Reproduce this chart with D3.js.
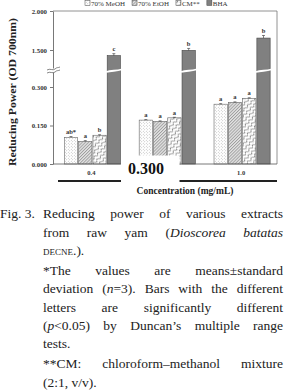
<!DOCTYPE html>
<html><head><meta charset="utf-8">
<script src="https://cdn.jsdelivr.net/npm/d3@7"></script>
<style>body{margin:0;background:#fff;overflow:hidden} svg{display:block}</style>
</head><body>
<script>
// data
const concentrations = ["0.4", "0.300", "1.0"];
const series = ["70% MeOH", "70% EtOH", "CM**", "BHA"];
const meoh = [0.104, 0.171, 0.233];
const etoh = [0.088, 0.166, 0.240];
const cm   = [0.112, 0.180, 0.256];
const bha  = [1.428, 1.495, 1.653];
const meohErr = [0.003, 0.002, 0.002];
const etohErr = [0.003, 0.002, 0.002];
const cmErr   = [0.002, 0.002, 0.002];
const bhaErr  = [0.025, 0.025, 0.033];
const meohLetters = ["ab*", "a", "a"];
const etohLetters = ["a", "a", "a"];
const cmLetters   = ["b", "a", "a"];
const bhaLetters  = ["c", "b", "b"];
const lowerTicks = [0, 0.15, 0.3];
const upperTicks = [1.5, 2.0];

const W = 284, H = 392;
const plotL = 53, plotR = 277, plotT = 11, base = 164, breakY = 70;
const serif = "'Liberation Serif', 'Times New Roman', serif";

const svg = d3.select("body").append("svg").attr("width", W).attr("height", H);
const defs = svg.append("defs");

// fills
const pd = defs.append("pattern").attr("id", "pDots").attr("patternUnits", "userSpaceOnUse")
  .attr("width", 3).attr("height", 3);
pd.append("rect").attr("width", 3).attr("height", 3).attr("fill", "#fff");
pd.append("circle").attr("cx", 0.75).attr("cy", 0.75).attr("r", 0.45).attr("fill", "#999");
pd.append("circle").attr("cx", 2.25).attr("cy", 2.25).attr("r", 0.45).attr("fill", "#999");

const ph = defs.append("pattern").attr("id", "pHatch").attr("patternUnits", "userSpaceOnUse")
  .attr("width", 2.2).attr("height", 2.2).attr("patternTransform", "rotate(45)");
ph.append("rect").attr("width", 2.2).attr("height", 2.2).attr("fill", "#e4e4e4");
ph.append("line").attr("x1", 0.5).attr("x2", 0.5).attr("y1", 0).attr("y2", 2.2)
  .attr("stroke", "#888").attr("stroke-width", 0.7);

const pw = defs.append("pattern").attr("id", "pWave").attr("patternUnits", "userSpaceOnUse")
  .attr("width", 5).attr("height", 4).attr("patternTransform", "rotate(-45)");
pw.append("rect").attr("width", 5).attr("height", 4).attr("fill", "#fff");
pw.append("path").attr("d", "M0,2 Q1.25,-0.5 2.5,2 T5,2").attr("fill", "none")
  .attr("stroke", "#555").attr("stroke-width", 0.75);

const fills = ["url(#pDots)", "url(#pHatch)", "url(#pWave)", "#808080"];

const rows = series.map((s, i) => ({
  name: s,
  values: [meoh, etoh, cm, bha][i],
  errs: [meohErr, etohErr, cmErr, bhaErr][i],
  letters: [meohLetters, etohLetters, cmLetters, bhaLetters][i],
  fill: fills[i]
}));

// broken y axis: two linear pieces
const lower = d3.scaleLinear().domain([0, 0.3]).range([base, 87]);
const upper = d3.scaleLinear().domain([1.5, 2.0]).range([50, plotT]);
const y = v => v < 1 ? lower(v) : upper(v);

const x0 = d3.scaleBand().domain(concentrations).range([55, 279.5])
  .paddingInner(0.25).paddingOuter(0.125);
const x1 = d3.scaleBand().domain(series).range([0, x0.bandwidth()]).paddingInner(0.07);

// bars
const g = svg.append("g");
rows.forEach(r => {
  const gs = g.append("g");
  concentrations.forEach((c, j) => {
    const bx = x0(c) + x1(r.name), bw = x1.bandwidth(), v = r.values[j];
    gs.append("rect").attr("x", bx).attr("y", y(v)).attr("width", bw)
      .attr("height", base - y(v)).attr("fill", r.fill)
      .attr("stroke", r.name === "BHA" ? "#444" : "#666").attr("stroke-width", 0.6);
    const ey = y(v + r.errs[j]);
    gs.append("line").attr("x1", bx + bw / 2).attr("x2", bx + bw / 2)
      .attr("y1", y(v)).attr("y2", ey).attr("stroke", "#333").attr("stroke-width", 0.6);
    gs.append("line").attr("x1", bx + bw / 2 - 1.5).attr("x2", bx + bw / 2 + 1.5)
      .attr("y1", ey).attr("y2", ey).attr("stroke", "#333").attr("stroke-width", 0.6);
    gs.append("text").attr("x", bx + bw / 2).attr("y", ey - 2.5)
      .attr("text-anchor", "middle").attr("font-family", serif).attr("font-weight", "bold")
      .attr("font-size", 6.5).attr("fill", "#333").text(r.letters[j]);
    if (v > 1) {
      // break gap across tall bar
      gs.append("path")
        .attr("d", `M${bx - 1},${breakY + 2} C${bx + bw * 0.35},${breakY} ${bx + bw * 0.65},${breakY + 1.5} ${bx + bw + 1},${breakY - 0.5}`)
        .attr("fill", "none").attr("stroke", "#fff").attr("stroke-width", 1.8);
    }
  });
});

// frame
svg.append("line").attr("x1", plotL).attr("x2", plotR).attr("y1", plotT).attr("y2", plotT)
  .attr("stroke", "#777").attr("stroke-width", 0.8);
svg.append("line").attr("x1", plotR).attr("x2", plotR).attr("y1", plotT).attr("y2", base)
  .attr("stroke", "#777").attr("stroke-width", 0.8);
svg.append("line").attr("x1", plotL).attr("x2", plotR).attr("y1", base).attr("y2", base)
  .attr("stroke", "#555").attr("stroke-width", 0.8);

// axes
const lowerAxis = d3.scaleLinear().domain([0, lower.invert(72)]).range([base, 72]);
const upperAxis = d3.scaleLinear().domain([upper.invert(68), 2.0]).range([68, plotT]);
[[lowerAxis, lowerTicks], [upperAxis, upperTicks]].forEach(([s, t]) => {
  const ax = svg.append("g").attr("transform", `translate(${plotL},0)`)
    .call(d3.axisLeft(s).tickValues(t).tickFormat(d3.format(".3f")).tickSize(3).tickSizeOuter(0).tickPadding(3));
  ax.select(".domain").attr("stroke", "#555").attr("stroke-width", 0.8);
  ax.selectAll(".tick line").attr("stroke", "#555").attr("stroke-width", 0.8);
  ax.selectAll("text").attr("font-family", serif).attr("font-weight", "bold")
    .attr("font-size", 6.8).attr("fill", "#333");
});
// axis break marks
[0, 3].forEach(d => {
  svg.append("path")
    .attr("d", `M47,${breakY + d} C50,${breakY + d - 2} 53,${breakY + d + 1} 55,${breakY + d - 1} S58,${breakY + d - 2} 60,${breakY + d - 3}`)
    .attr("fill", "none").attr("stroke", "#555").attr("stroke-width", 0.7);
});

// group labels and underline
concentrations.forEach((c, j) => {
  if (j === 1) return;
  svg.append("text").attr("x", x0(c) + x0.bandwidth() / 2 - 1).attr("y", 174.5)
    .attr("text-anchor", "middle").attr("font-family", serif).attr("font-weight", "bold")
    .attr("font-size", 6.5).attr("fill", "#333").text(c);
});
svg.append("line").attr("x1", 58).attr("x2", plotR).attr("y1", 181).attr("y2", 181)
  .attr("stroke", "#222").attr("stroke-width", 1.8);

// pasted-over middle label
svg.append("rect").attr("x", 121).attr("y", 155.5).attr("width", 58.5).attr("height", 28).attr("fill", "#fff");
svg.append("text").attr("x", 128).attr("y", 173.5).attr("font-family", serif).attr("font-weight", "bold")
  .attr("font-size", 16).attr("fill", "#111").text(concentrations[1]);

// axis titles
svg.append("text").attr("x", 185).attr("y", 193.5).attr("text-anchor", "middle")
  .attr("font-family", serif).attr("font-weight", "bold").attr("font-size", 9.5).attr("fill", "#222")
  .text("Concentration (mg/mL)");
svg.append("text").attr("transform", "translate(15.5,92) rotate(-90)").attr("text-anchor", "middle")
  .attr("font-family", serif).attr("font-weight", "bold").attr("font-size", 10).attr("fill", "#222")
  .attr("textLength", 148).attr("lengthAdjust", "spacingAndGlyphs")
  .text("Reducing Power (OD 700nm)");

// legend (sits against the top edge)
let lx = 85;
rows.forEach(r => {
  svg.append("rect").attr("x", lx).attr("y", 0.5).attr("width", 5).attr("height", 5)
    .attr("fill", r.fill).attr("stroke", "#444").attr("stroke-width", 0.5);
  const t = svg.append("text").attr("x", lx + 6).attr("y", 6).attr("font-family", serif)
    .attr("font-size", 7).attr("fill", "#333").text(r.name);
  lx += 6 + t.node().getComputedTextLength() + 7;
});

// caption (justified lines)
const cap = svg.append("g").attr("font-family", serif).attr("font-size", 13.5).attr("fill", "#222");
const captionLines = [
  { x: 0, y: 218, words: ["Fig. 3."] },
  { x: 43, y: 218, end: 283, words: ["Reducing", "power", "of", "various", "extracts"] },
  { x: 43, y: 237, end: 283, words: ["from", "raw", "yam", "({Dioscorea}", "{batatas}"] },
  { x: 43, y: 255, words: ["[DECNE].)."] },
  { x: 43, y: 275, end: 283, words: ["*The", "values", "are", "means±standard"] },
  { x: 43, y: 293, end: 283, words: ["deviation", "({n}=3).", "Bars", "with", "the", "different"] },
  { x: 43, y: 312, end: 283, words: ["letters", "are", "significantly", "different"] },
  { x: 43, y: 330, end: 283, words: ["({p}<0.05)", "by", "Duncan’s", "multiple", "range"] },
  { x: 43, y: 348, words: ["tests."] },
  { x: 43, y: 368, end: 283, words: ["**CM:", "chloroform–methanol", "mixture"] },
  { x: 43, y: 387, words: ["(2:1,", "v/v)."] }
];
captionLines.forEach(line => {
  const nodes = line.words.map(w => {
    const t = cap.append("text").attr("y", line.y);
    w.split(/(\{[^}]*\}|\[[^\]]*\])/).filter(p => p).forEach(p => {
      if (p[0] === "{") t.append("tspan").attr("font-style", "italic").text(p.slice(1, -1));
      else if (p[0] === "[") t.append("tspan").attr("font-size", 9).text(p.slice(1, -1));
      else t.append("tspan").text(p);
    });
    return t;
  });
  const widths = nodes.map(n => n.node().getComputedTextLength());
  const space = 3.4;
  const gap = line.end && nodes.length > 1
    ? (line.end - line.x - d3.sum(widths)) / (nodes.length - 1) : space;
  let cx = line.x;
  nodes.forEach((n, i) => { n.attr("x", cx); cx += widths[i] + gap; });
});
</script>
</body></html>
